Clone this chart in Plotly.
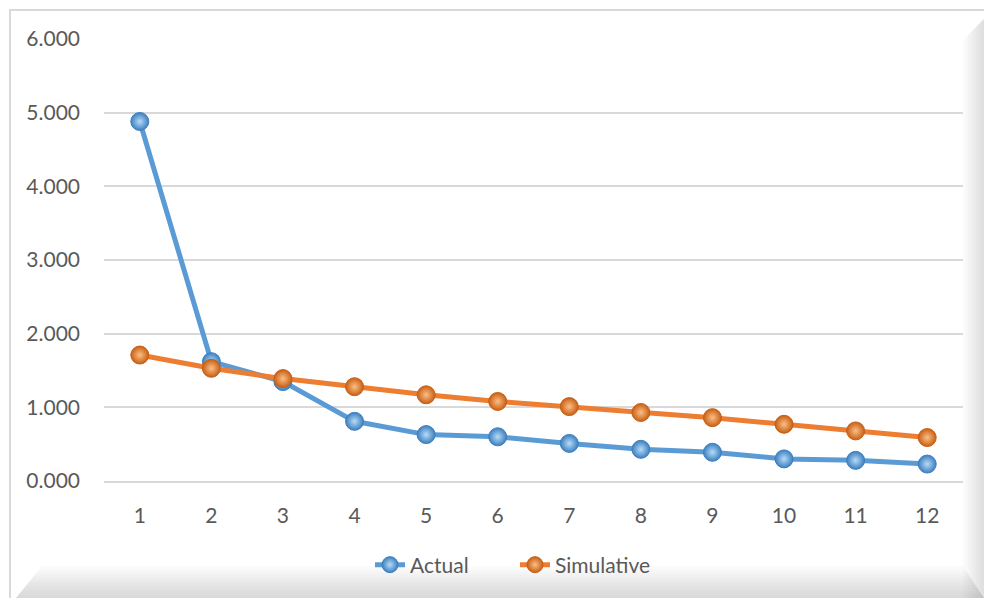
import plotly.graph_objects as go

# Series data
periods = [str(i) for i in range(1, 13)]
actual = [4.88, 1.62, 1.35, 0.81, 0.63, 0.60, 0.51, 0.43, 0.39, 0.30, 0.28, 0.23]
simulative = [1.71, 1.53, 1.39, 1.28, 1.17, 1.08, 1.01, 0.93, 0.86, 0.77, 0.68, 0.59]
y_ticks = [0, 1, 2, 3, 4, 5, 6]

W, H = 984, 598
ML, MR, MT, MB = 104, 21, 39, 117
PW, PH = W - ML - MR, H - MT - MB

def px(x):
    return (x - ML) / PW

def py(y):
    return (H - MB - y) / PH

TEXT = "#595959"
FONT = "Lato, Open Sans, sans-serif"

fig = go.Figure()

def add_series(name, values, color, light, edge):
    fig.add_trace(go.Scatter(
        x=periods, y=values, name=name, mode="lines+markers",
        line=dict(color=color, width=5),
        marker=dict(size=18, color=edge,
                    gradient=dict(type="radial", color=light),
                    line=dict(color=edge, width=1)),
    ))

add_series("Actual", actual, "#5b9bd5", "#b5dcf8", "#3d7fbf")
add_series("Simulative", simulative, "#ed7d31", "#fbbf86", "#c85f14")

shapes = []
# outer frame border
shapes.append(dict(type="path", xref="paper", yref="paper",
                   path=f"M{px(10)},{py(598)} L{px(10)},{py(10)} L{px(984)},{py(10)}",
                   line=dict(color="#d9d9d9", width=2)))
# right-hand bevel shading
for i in range(8):
    x0 = 963 + i * 2.6
    shapes.append(dict(type="path", xref="paper", yref="paper",
                       path=(f"M{px(x0)},{py(40 - i * 2.6)} L{px(984)},{py(19)} "
                             f"L{px(984)},{py(598)} L{px(x0)},{py(598)} Z"),
                       fillcolor="rgba(150,150,150,0.035)", line=dict(width=0),
                       layer="above"))
# bottom bevel shading
for i in range(10):
    y0 = 566 + i * 3.2
    shapes.append(dict(type="path", xref="paper", yref="paper",
                       path=(f"M{px(42 - i * 2.6)},{py(y0)} L{px(963 + i * 2)},{py(y0)} "
                             f"L{px(984)},{py(598)} L{px(16)},{py(598)} Z"),
                       fillcolor="rgba(150,150,150,0.035)", line=dict(width=0),
                       layer="above"))

fig.update_layout(
    width=W, height=H,
    margin=dict(l=ML, r=MR, t=MT, b=MB),
    paper_bgcolor="white", plot_bgcolor="white",
    font=dict(family=FONT, size=21, color=TEXT),
    showlegend=True,
    legend=dict(orientation="h", x=px(370), xanchor="left", y=py(565), yanchor="middle",
                font=dict(size=21, color=TEXT), itemwidth=30,
                entrywidth=100, entrywidthmode="pixels",
                bgcolor="rgba(0,0,0,0)"),
    xaxis=dict(type="category", range=[-0.5, 11.5], showgrid=False,
               showline=True, linecolor="#d9d9d9", linewidth=2,
               ticks="", ticklabelstandoff=15, tickfont=dict(size=21, color=TEXT),
               fixedrange=True),
    yaxis=dict(range=[0, 6], tickvals=y_ticks, tickformat=".3f",
               showgrid=True, gridcolor="#d9d9d9", gridwidth=2,
               zeroline=False, showline=False, ticks="",
               ticklabelstandoff=23, tickfont=dict(size=21, color=TEXT),
               fixedrange=True),
    shapes=shapes,
)

fig.write_html("out.html")
